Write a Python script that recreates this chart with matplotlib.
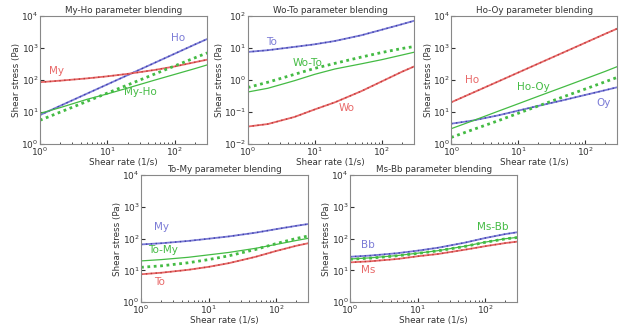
import matplotlib
matplotlib.use("Agg")
import matplotlib.pyplot as plt

# shear rates (1/s) at which values were read
rate = [1, 2, 5, 10, 20, 50, 100, 200, 300]

# My-Ho
myho_ho = [8, 15.6, 37.6, 73, 142, 343, 667, 1300, 1900]
myho_my = [85, 95, 112, 130, 155, 205, 265, 360, 430]
myho_blend = [9, 13.7, 24.9, 36.7, 55.9, 98.7, 150, 228, 295]
myho_blend_dot = [5.5, 9.9, 21.5, 39, 70, 153, 276, 497, 700]

# Wo-To
woto_to = [7.5, 8.5, 10.8, 13, 16.5, 25, 37, 55, 70]
woto_wo = [0.035, 0.042, 0.07, 0.12, 0.2, 0.45, 0.9, 1.8, 2.6]
woto_blend = [0.42, 0.55, 0.95, 1.5, 2.2, 3.2, 4.3, 6.0, 7.3]
woto_blend_dot = [0.58, 0.85, 1.5, 2.3, 3.3, 5.2, 7.2, 9.6, 11]

# Ho-Oy
hooy_ho = [20, 38, 89, 170, 324, 760, 1450, 2770, 4000]
hooy_oy = [4.3, 5.3, 7.8, 11, 15.5, 24, 34, 48, 59]
hooy_blend = [3, 5.1, 10.5, 18, 31, 63, 108, 186, 260]
hooy_blend_dot = [1.6, 2.7, 5.3, 9.1, 15.4, 31, 52, 88, 120]

# To-My
tomy_my = [66, 72, 85, 100, 118, 155, 200, 255, 290]
tomy_to = [7.6, 8.5, 10.5, 13, 17, 27, 41, 60, 72]
tomy_blend = [20, 22, 26, 31, 37, 50, 66, 88, 103]
tomy_blend_dot = [12.6, 14, 17.5, 22, 29, 46, 70, 102, 122]

# Ms-Bb
msbb_bb = [27, 29.5, 35, 42, 52, 75, 105, 140, 160]
msbb_ms = [18, 19.5, 23, 28, 33, 45, 58, 73, 81]
msbb_blend = [23, 25, 29.5, 35, 42, 58, 78, 100, 110]
msbb_blend_dot = [22.5, 24.5, 29, 34.5, 41.5, 57, 77, 99, 109]

BLUE, BLUE_D = "#7b7bd6", "#3f3fa8"
RED, RED_D = "#e86868", "#b83a3a"
GREEN = "#44bb44"

fig = plt.figure(figsize=(6.24, 3.25), dpi=100)


def panel(rect, title, top, bot, blend, blend_dot, top_c, bot_c, ylim, labels):
    ax = fig.add_axes(rect)
    for y, c, cd in [(top, top_c[0], top_c[1]), (bot, bot_c[0], bot_c[1])]:
        ax.plot(rate, y, color=c, lw=1.3)
        ax.plot(rate, y, color=cd, lw=1.0, ls=(0, (1, 2.5)))
    ax.plot(rate, blend, color=GREEN, lw=0.9)
    ax.plot(rate, blend_dot, color=GREEN, lw=2.0, ls=(0, (1, 1.3)))
    ax.set_xscale("log")
    ax.set_yscale("log")
    ax.set_xlim(1, 300)
    ax.set_ylim(*ylim)
    ax.set_title(title, fontsize=6.3, pad=2, color="#333333")
    ax.set_xlabel("Shear rate (1/s)", fontsize=6.3, labelpad=0, color="#333333")
    ax.set_ylabel("Shear stress (Pa)", fontsize=6.3, labelpad=0, color="#333333")
    ax.tick_params(which="both", direction="in", labelsize=6.5, colors="#333333", pad=1)
    ax.tick_params(which="major", length=3)
    ax.tick_params(which="minor", length=1.5)
    ax.yaxis.set_minor_locator(matplotlib.ticker.NullLocator())
    for s in ax.spines.values():
        s.set_color("#888888")
        s.set_linewidth(0.8)
    for txt, x, y, c in labels:
        ax.text(x, y, txt, color=c, fontsize=7.5, ha="center", va="center")
    return ax


panel([0.064, 0.557, 0.268, 0.394], "My-Ho parameter blending",
      myho_ho, myho_my, myho_blend, myho_blend_dot,
      (BLUE, BLUE_D), (RED, RED_D), (1, 1e4),
      [("My", 1.75, 190, RED), ("Ho", 110, 2000, BLUE), ("My-Ho", 31, 42, GREEN)])

panel([0.397, 0.557, 0.266, 0.394], "Wo-To parameter blending",
      woto_to, woto_wo, woto_blend, woto_blend_dot,
      (BLUE, BLUE_D), (RED, RED_D), (1e-2, 1e2),
      [("To", 2.3, 15, BLUE), ("Wo-To", 7.9, 3.4, GREEN), ("Wo", 30, 0.13, RED)])

panel([0.723, 0.557, 0.266, 0.394], "Ho-Oy parameter blending",
      hooy_oy, hooy_ho, hooy_blend, hooy_blend_dot,
      (BLUE, BLUE_D), (RED, RED_D), (1, 1e4),
      [("Ho", 2.05, 100, RED), ("Ho-Oy", 16.7, 60, GREEN), ("Oy", 185, 19, BLUE)])

panel([0.226, 0.07, 0.268, 0.391], "To-My parameter blending",
      tomy_my, tomy_to, tomy_blend, tomy_blend_dot,
      (BLUE, BLUE_D), (RED, RED_D), (1, 1e4),
      [("My", 2.0, 230, BLUE), ("To-My", 2.1, 44, GREEN), ("To", 1.9, 4.3, RED)])

panel([0.561, 0.07, 0.268, 0.391], "Ms-Bb parameter blending",
      msbb_bb, msbb_ms, msbb_blend, msbb_blend_dot,
      (BLUE, BLUE_D), (RED, RED_D), (1, 1e4),
      [("Bb", 1.85, 63, BLUE), ("Ms", 1.85, 10, RED), ("Ms-Bb", 132, 230, GREEN)])

fig.savefig("out.png", dpi=100)
